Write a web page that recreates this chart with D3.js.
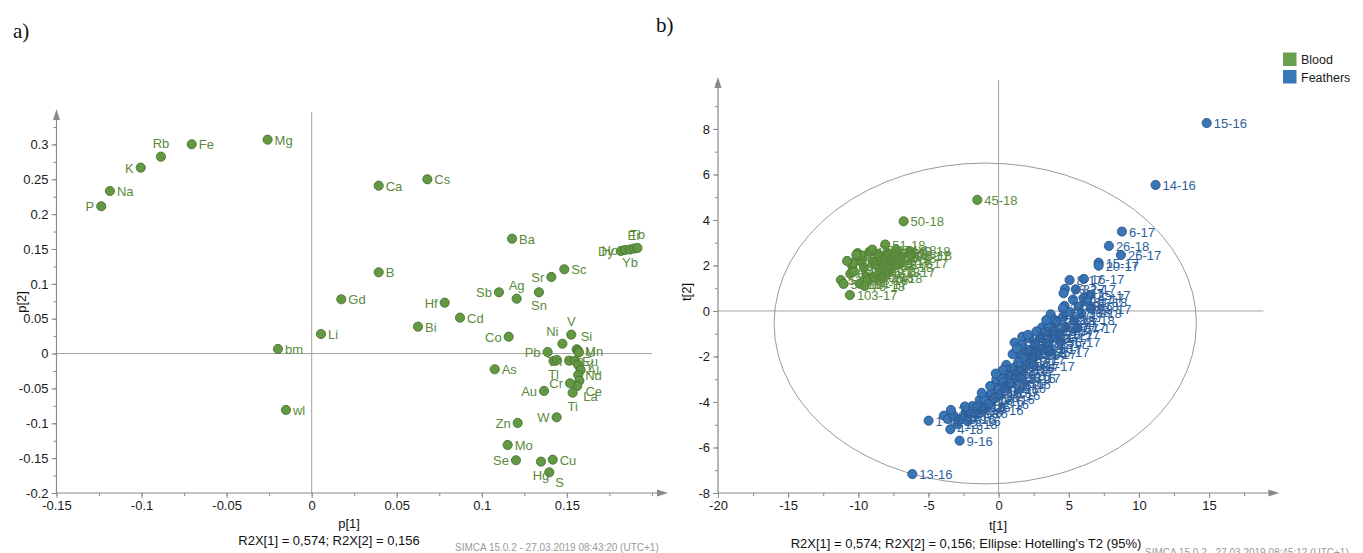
<!DOCTYPE html>
<html>
<head>
<meta charset="utf-8">
<script src="https://cdn.jsdelivr.net/npm/d3@7"></script>
<style>
  body { margin: 0; background: #fff; }
  svg { display: block; font-family: "Liberation Sans", Arial, sans-serif; }
</style>
</head>
<body>
<svg id="chart" width="1363" height="553"></svg>
<script>
// ---- Loadings (panel a) ----
const elements = ["Mg","Fe","Rb","K","Na","P","Ca","Cs","Ba","B","Gd","Hf","Cd","Bi","Sb","Ag","Sr","Sn","Sc","Li","bm","wl","Co","As","V","Ni","Si","Mn","U","Pb","Tl","Sm","Th","Eu","Y","Al","Nd","Ce","La","Cr","Ti","Au","W","Zn","Mo","Se","Hg","Cu","S","Dy","Ho","Yb","Er","Tb"];
const loadP1 = [-0.0259,-0.0705,-0.0886,-0.1005,-0.1186,-0.1237,0.0394,0.0680,0.1178,0.0394,0.0174,0.0782,0.0872,0.0625,0.1101,0.1205,0.1409,0.1336,0.1485,0.0055,-0.0198,-0.0151,0.1158,0.1076,0.1526,0.1474,0.1558,0.1566,0.1571,0.1387,0.1422,0.1442,0.1514,0.1548,0.1567,0.1581,0.1567,0.1574,0.1561,0.1519,0.1534,0.1366,0.1440,0.1211,0.1152,0.1201,0.1348,0.1417,0.1397,0.1818,0.1842,0.1871,0.1895,0.1915];
const loadP2 = [0.3068,0.3002,0.2824,0.2666,0.2332,0.2113,0.2408,0.2500,0.1648,0.1166,0.0779,0.0730,0.0515,0.0386,0.0879,0.0787,0.1099,0.0879,0.1209,0.0281,0.0066,-0.0809,0.0242,-0.0225,0.0271,0.0141,0.0062,0.0040,0.0016,0.0023,-0.0106,-0.0092,-0.0102,-0.0102,-0.0164,-0.0235,-0.0307,-0.0389,-0.0465,-0.0426,-0.0561,-0.0536,-0.0914,-0.0995,-0.1311,-0.1530,-0.1550,-0.1522,-0.1703,0.1472,0.1486,0.1493,0.1507,0.1515];

// ---- Scores (panel b) ----
const bloodIds = ["45-18","50-18","51-18","103-17","52-18","53-18","49-18","48-18","46-18","47-18","54-18","55-18","56-18","57-18","58-18","59-18","60-18","61-18","62-18","63-18","64-18","65-18","66-18","67-18","68-18","101-17","102-17","104-17","105-17","106-17","107-17","108-17","69-18","70-18","71-18","72-18","73-18","74-18","75-18","76-18"];
const bloodT1 = [-1.52,-6.77,-8.08,-10.60,-11.24,-11.05,-6.30,-6.20,-7.29,-7.89,-8.48,-8.96,-9.79,-10.05,-9.72,-10.43,-10.57,-10.31,-9.43,-9.31,-7.53,-8.48,-8.72,-10.14,-10.38,-9.2,-8.6,-9.9,-8.2,-7.9,-7.0,-6.9,-9.6,-8.9,-7.7,-10.8,-9.0,-7.3,-8.3,-9.55];
const bloodT2 = [4.88,3.94,2.92,0.70,1.36,1.19,2.62,2.45,2.32,2.54,2.39,2.17,2.17,2.54,2.43,1.98,1.63,1.73,1.51,1.36,1.95,1.73,2.02,2.46,2.10,2.6,2.5,1.2,2.1,1.7,2.1,2.4,1.9,1.5,2.25,2.2,2.7,2.7,1.45,1.1];

const featherIds = ["15-16","14-16","6-17","26-18","26-17","15-17","20-17","8-17","16-17","23-17","22-17","25-17","14-17","17-18","3-17","13-16","1-18","4-18","9-16","12-18","5-18","2-18","6-16","3-18","7-18","8-18","9-18","10-18","11-18","13-18","14-18","15-18","16-18","18-18","19-18","20-18","21-18","22-18","23-18","24-18","1-16","2-16","3-16","4-16","5-16","7-16","8-16","10-16","11-16","12-16","16-16","17-16","18-16","19-16","20-16","21-16","22-16","23-16","24-16","25-16","1-17","2-17","4-17","5-17","7-17","9-17","10-17","11-17","12-17","13-17","17-17","18-17","19-17","21-17","24-17","27-17","28-17","29-17","30-17","27-18","28-18","29-18","30-18","31-18","32-18","33-18","34-18","35-18","36-18","37-18","38-18","39-18","26-16","27-16","28-16","29-16","31-17","32-17","33-17","34-17","35-17","36-17","37-17","38-17"];
const featherT1 = [14.83,11.19,8.79,7.86,8.72,7.13,7.13,5.06,6.08,4.73,4.63,6.53,6.06,4.70,3.71,-6.15,-4.99,-3.44,-2.78,-2.94,-2.35,-2.07,-1.87,-1.35,-0.88,-0.41,-0.29,-0.16,0.19,0.55,0.66,1.14,1.50,1.69,1.97,2.21,2.44,3.11,3.99,4.58,-3.9,-3.6,-3.2,-2.6,-2.2,-1.7,-1.5,-1.1,-1.0,-0.7,-0.5,-0.3,0.0,0.1,0.35,0.5,0.8,0.85,1.1,1.2,1.4,1.6,1.8,2.0,2.25,2.4,2.6,2.75,2.95,3.1,3.3,3.45,3.6,3.8,4.0,4.2,4.35,4.6,4.8,5.1,5.4,5.7,5.9,6.3,0.3,-0.2,1.0,1.7,2.7,3.4,-2.4,-1.2,-0.6,-3.4,1.3,2.1,5.3,5.5,1.55,2.55,3.6,4.4,5.6,6.6];
const featherT2 = [8.26,5.54,3.49,2.86,2.46,2.12,1.99,1.36,1.41,0.97,0.78,0.70,0.56,0.22,-0.15,-7.17,-4.82,-5.20,-5.70,-4.97,-4.47,-4.43,-4.18,-3.91,-3.77,-3.35,-3.25,-3.00,-2.91,-2.37,-2.59,-1.39,-1.93,-1.13,-1.86,-1.20,-1.64,-0.72,-0.40,0.12,-4.6,-4.75,-4.6,-4.75,-4.85,-4.5,-4.2,-4.35,-3.95,-4.1,-3.6,-3.85,-3.45,-3.7,-3.15,-3.4,-2.85,-3.2,-2.5,-2.95,-2.25,-2.65,-2.05,-2.4,-1.75,-2.15,-1.45,-1.9,-1.2,-1.65,-0.95,-1.4,-0.7,-1.15,-0.85,-0.5,-1.0,-0.25,-0.7,-0.05,-0.4,0.2,-0.1,0.4,-2.6,-2.75,-1.9,-1.5,-0.9,-0.4,-4.2,-3.6,-3.3,-4.35,-1.65,-1.05,0.5,0.95,-2.95,-2.4,-1.8,-1.35,-0.75,0.1];

// Hotelling's T2 (95%) ellipse: centre and semi-axes in score units
const ellipseCentre = [-0.95, -0.55];
const ellipseRadii = [15.05, 7.05];

// Axis tick values
const pTicksX = [-0.15, -0.1, -0.05, 0, 0.05, 0.1, 0.15];
const pTicksY = [-0.2, -0.15, -0.1, -0.05, 0, 0.05, 0.1, 0.15, 0.2, 0.25, 0.3];
const tTicksX = [-20, -15, -10, -5, 0, 5, 10, 15];
const tTicksY = [-8, -6, -4, -2, 0, 2, 4, 6, 8];

const groups = ["Blood", "Feathers"];

// ---- styling ----
const GREEN = "#639844", GREEN_STROKE = "#3f6c29", GREEN_TEXT = "#5a8a3b";
const BLUE = "#3a75b5", BLUE_STROKE = "#1f4e85", BLUE_TEXT = "#2f5f9a";
const AXIS = "#8a8a8a", ZERO = "#a3a3a3";

// label side for each loading (where its text sits relative to the marker)
const labelSide = {
  Rb: "above", K: "left", P: "left", Hf: "left", Sb: "left", Ag: "above", Sr: "left",
  Sn: "below", Co: "left", V: "above", Ni: "upleft", Si: "upright", Pb: "left",
  Tl: "below", Th: "left", Ce: "downright", La: "downright2", Cr: "left", Ti: "below",
  Au: "left", W: "left", Zn: "left", Se: "left", Hg: "below", S: "downright",
  Dy: "left", Ho: "left", Yb: "below", Er: "above", Tb: "above"
};

const svg = d3.select("#chart");

function labelAttrs(side) {
  switch (side) {
    case "left": return { dx: -7, dy: 5, anchor: "end" };
    case "above": return { dx: 0, dy: -9, anchor: "middle" };
    case "below": return { dx: 0, dy: 18, anchor: "middle" };
    case "upleft": return { dx: -4, dy: -8, anchor: "end" };
    case "upright": return { dx: 4, dy: -8, anchor: "start" };
    case "downright": return { dx: 6, dy: 15, anchor: "start" };
    case "downright2": return { dx: 6, dy: 15, anchor: "start" };
    default: return { dx: 7, dy: 5, anchor: "start" };
  }
}

function drawFrame(g, x, y, opts) {
  const [x0, x1] = x.range();
  const [y0, y1] = y.range(); // y0 bottom, y1 top
  // zero lines
  g.append("line").attr("x1", x(0)).attr("x2", x(0)).attr("y1", y0).attr("y2", y1)
    .attr("stroke", ZERO).attr("stroke-width", 1);
  g.append("line").attr("x1", x0).attr("x2", x1 - 13).attr("y1", y(0)).attr("y2", y(0))
    .attr("stroke", ZERO).attr("stroke-width", 1);

  // minor ticks
  const minorX = g.append("g").attr("transform", `translate(0,${y0})`)
    .call(d3.axisBottom(x).tickValues(opts.minorX).tickSize(3).tickFormat(""));
  const minorY = g.append("g").attr("transform", `translate(${x0},0)`)
    .call(d3.axisLeft(y).tickValues(opts.minorY).tickSize(3).tickFormat(""));
  // major ticks
  const majX = g.append("g").attr("transform", `translate(0,${y0})`)
    .call(d3.axisBottom(x).tickValues(opts.ticksX).tickSize(5).tickPadding(3).tickFormat(d => String(d)));
  const majY = g.append("g").attr("transform", `translate(${x0},0)`)
    .call(d3.axisLeft(y).tickValues(opts.ticksY).tickSize(5).tickPadding(3).tickFormat(d => String(d)));
  [minorX, minorY, majX, majY].forEach(a => {
    a.select(".domain").remove();
    a.selectAll("line").attr("stroke", AXIS);
    a.selectAll("text").attr("fill", "#1a1a1a").style("font-size", "13px")
      .style("font-family", '"Liberation Sans", Arial, sans-serif');
  });

  // axis lines with arrowheads
  g.append("line").attr("x1", x0).attr("x2", x1 - 4).attr("y1", y0).attr("y2", y0)
    .attr("stroke", AXIS).attr("stroke-width", 1.2);
  g.append("line").attr("x1", x0).attr("x2", x0).attr("y1", y0).attr("y2", y1 + 4)
    .attr("stroke", AXIS).attr("stroke-width", 1.2);
  g.append("path").attr("d", `M${x1 + 3},${y0} L${x1 - 8},${y0 - 3.5} L${x1 - 8},${y0 + 3.5} Z`)
    .attr("fill", AXIS);
  g.append("path").attr("d", `M${x0},${y1 - 3} L${x0 - 3.5},${y1 + 8} L${x0 + 3.5},${y1 + 8} Z`)
    .attr("fill", AXIS);
}

function range(a, b, step) {
  const out = [];
  for (let i = 0; a + i * step <= b + 1e-9; i++) out.push(+(a + i * step).toFixed(4));
  return out;
}

// ================= Panel a: loadings =================
const xL = d3.scaleLinear().domain([-0.15, 0.2077]).range([56.5, 665]);
const yL = d3.scaleLinear().domain([-0.2, 0.3465]).range([493, 112]);
const gA = svg.append("g");
drawFrame(gA, xL, yL, {
  ticksX: pTicksX, ticksY: pTicksY,
  minorX: range(-0.15, 0.2, 0.025), minorY: range(-0.2, 0.325, 0.025)
});

const loadings = elements.map((e, i) => ({ name: e, p1: loadP1[i], p2: loadP2[i] }));
gA.append("g").selectAll("circle").data(loadings).join("circle")
  .attr("cx", d => xL(d.p1)).attr("cy", d => yL(d.p2)).attr("r", 4.6)
  .attr("fill", GREEN).attr("stroke", GREEN_STROKE).attr("stroke-width", 0.8);
gA.append("g").selectAll("text").data(loadings).join("text")
  .each(function (d) {
    const a = labelAttrs(labelSide[d.name]);
    d3.select(this).attr("x", xL(d.p1) + a.dx).attr("y", yL(d.p2) + a.dy)
      .attr("text-anchor", a.anchor);
  })
  .attr("fill", GREEN_TEXT).style("font-size", "13px").text(d => d.name);

// axis titles and footers
svg.append("text").attr("x", 349).attr("y", 528).attr("text-anchor", "middle")
  .style("font-size", "13px").attr("fill", "#111").text("p[1]");
svg.append("text").attr("transform", "translate(26,302) rotate(-90)").attr("text-anchor", "middle")
  .style("font-size", "13px").attr("fill", "#111").text("p[2]");
svg.append("text").attr("x", 329).attr("y", 545).attr("text-anchor", "middle")
  .style("font-size", "13px").attr("fill", "#111").text("R2X[1] = 0,574; R2X[2] = 0,156");
svg.append("text").attr("x", 455).attr("y", 551)
  .style("font-size", "10px").attr("fill", "#9a9a9a").text("SIMCA 15.0.2 - 27.03.2019 08:43:20 (UTC+1)");
svg.append("text").attr("x", 13).attr("y", 38)
  .style("font-family", '"Liberation Serif", "Times New Roman", serif').style("font-size", "21px")
  .attr("fill", "#111").text("a)");

// ================= Panel b: scores =================
const xR = d3.scaleLinear().domain([-20, 19.8]).range([718, 1276.4]);
const yR = d3.scaleLinear().domain([-8, 10.15]).range([493, 80]);
const gB = svg.append("g");
drawFrame(gB, xR, yR, {
  ticksX: tTicksX, ticksY: tTicksY,
  minorX: range(-20, 17.5, 2.5), minorY: range(-8, 10, 1)
});

// ellipse
gB.append("ellipse")
  .attr("cx", xR(ellipseCentre[0])).attr("cy", yR(ellipseCentre[1]))
  .attr("rx", xR(ellipseRadii[0]) - xR(0)).attr("ry", yR(0) - yR(ellipseRadii[1]))
  .attr("fill", "none").attr("stroke", "#9a9a9a").attr("stroke-width", 1);

const scores = [
  ...bloodIds.map((id, i) => ({ id, t1: bloodT1[i], t2: bloodT2[i], group: groups[0] })),
  ...featherIds.map((id, i) => ({ id, t1: featherT1[i], t2: featherT2[i], group: groups[1] }))
];
const fillOf = g => g === groups[0] ? GREEN : BLUE;
const strokeOf = g => g === groups[0] ? GREEN_STROKE : BLUE_STROKE;
const textOf = g => g === groups[0] ? GREEN_TEXT : BLUE_TEXT;

gB.append("g").selectAll("circle").data(scores).join("circle")
  .attr("cx", d => xR(d.t1)).attr("cy", d => yR(d.t2)).attr("r", 4.6)
  .attr("fill", d => fillOf(d.group)).attr("stroke", d => strokeOf(d.group)).attr("stroke-width", 0.8);
gB.append("g").selectAll("text").data(scores).join("text")
  .attr("x", d => xR(d.t1) + 7).attr("y", d => yR(d.t2) + 5)
  .attr("fill", d => textOf(d.group)).style("font-size", "13px").text(d => d.id);

svg.append("text").attr("x", 998).attr("y", 530).attr("text-anchor", "middle")
  .style("font-size", "13px").attr("fill", "#111").text("t[1]");
svg.append("text").attr("transform", "translate(691,292) rotate(-90)").attr("text-anchor", "middle")
  .style("font-size", "13px").attr("fill", "#111").text("t[2]");
svg.append("text").attr("x", 966).attr("y", 548).attr("text-anchor", "middle")
  .style("font-size", "13px").attr("fill", "#111")
  .text("R2X[1] = 0,574; R2X[2] = 0,156; Ellipse: Hotelling's T2 (95%)");
svg.append("text").attr("x", 1145).attr("y", 556)
  .style("font-size", "10px").attr("fill", "#9a9a9a").text("SIMCA 15.0.2 - 27.03.2019 08:45:12 (UTC+1)");
svg.append("text").attr("x", 656).attr("y", 32)
  .style("font-family", '"Liberation Serif", "Times New Roman", serif').style("font-size", "21px")
  .attr("fill", "#111").text("b)");

// legend
const legend = svg.append("g").attr("transform", "translate(1283,52.5)");
groups.forEach((gname, i) => {
  legend.append("rect").attr("x", 0).attr("y", i * 17.5).attr("width", 13.5).attr("height", 13.5)
    .attr("fill", i === 0 ? "#6aa04d" : "#3878b8");
  legend.append("text").attr("x", 18).attr("y", i * 17.5 + 11.5)
    .style("font-size", "12.5px").attr("fill", "#1a1a1a").text(gname);
});
</script>
</body>
</html>
